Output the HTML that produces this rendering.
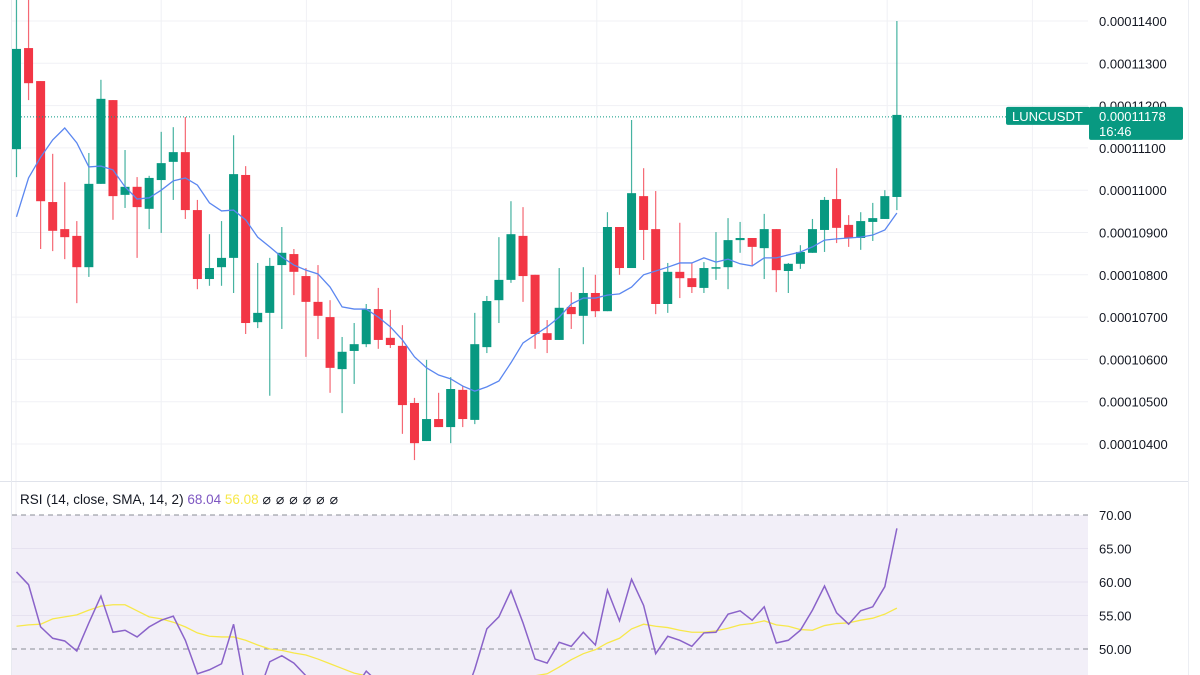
<!DOCTYPE html>
<html><head><meta charset="utf-8">
<style>
html,body{margin:0;padding:0;background:#fff;width:1200px;height:675px;overflow:hidden}
svg{display:block;font-family:"Liberation Sans",sans-serif;overflow:hidden}
</style></head>
<body>
<svg id="chart" width="1200" height="675" viewBox="0 0 1200 675" xmlns="http://www.w3.org/2000/svg">
  <defs><clipPath id="clip"><rect x="0" y="0" width="1200" height="675"/></clipPath></defs>
  <g clip-path="url(#clip)">
  <rect x="0" y="0" width="1200" height="675" fill="#fff"/>
  <g id="grid"></g>
  <rect x="12" y="515" width="1076" height="160" fill="#f2eff8"/>
  <g id="rsigrid"></g>
  <line x1="0" y1="481.5" x2="1188" y2="481.5" stroke="#e0e3eb" stroke-width="1"/>
  <line x1="11.5" y1="0" x2="11.5" y2="675" stroke="#e8eaf0" stroke-width="1"/>
  <line x1="1188.5" y1="0" x2="1188.5" y2="675" stroke="#eceef3" stroke-width="1"/>
  <g id="candles"></g>
  <g id="ma"></g>
  <g id="rsi"></g>
  <g id="axis"></g>
  <g id="raxis"></g>
  <text x="20" y="504" font-size="13.5" fill="#131722">RSI (14, close, SMA, 14, 2) <tspan fill="#7e57c2">68.04</tspan> <tspan fill="#f7e84a">56.08</tspan> <tspan fill="#131722" font-size="14" letter-spacing="5">⌀⌀⌀⌀⌀⌀</tspan></text>
  <g id="lastprice"></g>
  </g>
</svg>
<script>
const opens=[11097,11336,11258,10972,10908,10892,10818,11015,11213,10989,11008,10956,11024,11067,11090,10953,10790,10818,10840,11036,10688,10710,10823,10849,10797,10736,10700,10577,10620,10636,10719,10651,10632,10497,10407,10459,10440,10528,10457,10629,10740,10788,10892,10800,10662,10646,10724,10703,10757,10714,10913,10816,10986,10908,10731,10807,10792,10769,10816,10818,10882,10887,10863,10908,10809,10826,10852,10906,10979,10918,10887,10925,10932,10984];
const highs=[11450,11450,11258,11086,11019,10927,11088,11261,11213,11095,11031,11034,11138,11149,11173,10977,10896,10927,11130,11057,10828,10840,10913,10861,10816,10823,10740,10653,10686,10731,10769,10717,10681,10509,10599,10521,10558,10537,10710,10750,10889,10974,10960,10800,10693,10816,10759,10818,10800,10948,10913,11166,11052,10998,10828,10923,10828,10830,10901,10934,10925,10887,10944,10908,10828,10870,10932,10984,11052,10941,10948,10970,11000,11400];
const lows=[11031,11213,10861,10856,10837,10733,10795,11015,10930,10958,10840,10908,10899,10977,10932,10766,10774,10774,10757,10660,10674,10514,10672,10752,10606,10648,10521,10473,10542,10629,10625,10627,10424,10362,10407,10440,10402,10440,10447,10615,10686,10781,10736,10625,10615,10646,10672,10636,10700,10714,10800,10816,10835,10707,10710,10745,10757,10757,10788,10766,10852,10823,10790,10759,10757,10814,10852,10854,10875,10866,10859,10880,10932,10953];
const closes=[11334,11253,10974,10904,10889,10818,11015,11216,10986,11008,10960,11029,11064,11090,10953,10790,10816,10840,11038,10686,10710,10821,10852,10807,10736,10703,10580,10618,10636,10719,10646,10634,10492,10402,10459,10440,10530,10459,10636,10738,10788,10896,10797,10660,10646,10722,10707,10757,10714,10913,10816,10993,10906,10731,10807,10792,10771,10816,10818,10882,10887,10866,10908,10811,10826,10854,10908,10977,10911,10887,10927,10934,10986,11178];
const maValues=[10937,11029,11078,11119,11147,11112,11055,11057,11048,11008,10979,10982,11000,11022,11029,11012,10970,10951,10953,10930,10889,10866,10842,10823,10811,10802,10771,10724,10719,10719,10700,10677,10646,10606,10580,10563,10554,10537,10525,10535,10549,10592,10639,10658,10677,10700,10731,10745,10745,10752,10755,10771,10800,10809,10818,10828,10828,10840,10830,10837,10826,10821,10840,10840,10847,10854,10866,10882,10885,10887,10889,10894,10906,10946];
const rsiValues=[61.5,59.6,53.3,51.6,51.2,49.7,53.9,57.9,52.5,52.8,51.8,53.3,54.3,54.9,51.3,46.3,46.9,47.8,53.7,44,43,48.1,49,47.9,46,44,43,42,44,46.7,45,43,40,38,41,40,43,42,47,53.0,54.8,58.7,53.9,48.5,47.9,51.0,50.4,52.5,50.6,58.8,54.2,60.4,56.5,49.3,51.9,51.3,50.4,52.4,52.5,55.2,55.7,54.3,56.3,50.9,51.3,52.8,55.8,59.4,55.4,53.7,55.7,56.3,59.3,68.0];
const rsiSmaValues=[53.4,53.6,53.7,54.5,54.8,55.1,55.8,56.4,56.6,56.6,55.7,54.8,54.5,54.0,53.3,52.4,51.9,51.8,51.8,51.3,50.6,50.0,49.8,49.4,49.1,48.5,47.8,47.1,46.4,46,45.5,45,44.6,44.3,44,44,44,44,44.2,44.6,45,45.4,45.8,46.0,46.3,47.3,48.4,49.3,49.9,50.9,51.6,53.0,53.7,53.4,53.2,52.8,52.5,52.5,52.7,53.1,53.6,53.8,54.2,53.6,53.4,52.9,52.8,53.5,53.8,53.9,54.3,54.6,55.2,56.1];
const priceTicks=[11400,11300,11200,11100,11000,10900,10800,10700,10600,10500,10400];
const rsiTicks=[70,65,60,55,50];
const lastPrice=11178;

const NS='http://www.w3.org/2000/svg';
function xC(i){return 16.5+i*12.06;}
function yP(v){return 21+(11400-v)*0.423;}
function yR(v){return 515+(70-v)*6.7;}
function mk(tag,attrs,parent){const e=document.createElementNS(NS,tag);for(const k in attrs)e.setAttribute(k,attrs[k]);parent.appendChild(e);return e;}
function fmt(v){return (v/1e8).toFixed(8);}

const grid=document.getElementById('grid');
for(let gx=16;gx<1088;gx+=145.2){const l=mk('line',{x1:gx,y1:0,x2:gx,y2:675,stroke:'#f0f1f5','stroke-width':1},grid);

}
const axis=document.getElementById('axis');
priceTicks.forEach(v=>{const y=yP(v);
const l=mk('line',{x1:12,y1:y,x2:1088,y2:y,stroke:'#f0f1f5','stroke-width':1},grid);


const t=mk('text',{x:1099,y:y+5,'font-size':13,fill:'#131722'},axis);


t.textContent=fmt(v);});

const rg=document.getElementById('rsigrid');const ra=document.getElementById('raxis');
rsiTicks.forEach(v=>{const y=yR(v);
const dashed=(v===70||v===50);
const l=mk('line',{x1:12,y1:y,x2:1088,y2:y,stroke:dashed?'#8a8d96':'#e6e2f0','stroke-width':1,'stroke-dasharray':dashed?'5,4':'none'},rg);


const t=mk('text',{x:1099,y:y+5,'font-size':13,fill:'#131722'},ra);


t.textContent=v.toFixed(2);});

const cg=document.getElementById('candles');
for(let i=0;i<opens.length;i++){
  const up=closes[i]>=opens[i];const col=up?'#089981':'#f23645';
  const x=xC(i);
  const w=mk('line',{x1:x,y1:yP(highs[i]),x2:x,y2:yP(lows[i]),stroke:col,'stroke-width':1.2,'stroke-opacity':0.75},cg);
  
  
  const top=yP(Math.max(opens[i],closes[i])),bot=yP(Math.min(opens[i],closes[i]));
  const b=mk('rect',{x:x-4.5,y:top,width:9,height:Math.max(1.5,bot-top),fill:col},cg);
  
  
}
const ma=document.getElementById('ma');
const maLine=mk('polyline',{points:maValues.map((v,i)=>xC(i)+','+yP(v)).join(' '),fill:'none',stroke:'#5b87f0','stroke-width':1.3},ma);



const rs=document.getElementById('rsi');
const sm=mk('polyline',{points:rsiSmaValues.map((v,i)=>xC(i)+','+yR(v)).join(' '),fill:'none',stroke:'#f7e84a','stroke-width':1.3},rs);


const rl=mk('polyline',{points:rsiValues.map((v,i)=>xC(i)+','+yR(v)).join(' '),fill:'none',stroke:'#8a63c9','stroke-width':1.5},rs);



const lp=document.getElementById('lastprice');const ly=yP(lastPrice)+2;
const dl=mk('line',{x1:12,y1:ly,x2:1088,y2:ly,stroke:'#089981','stroke-width':1,'stroke-dasharray':'1,2'},lp);


const b1=mk('rect',{x:1006,y:ly-10,width:84,height:18,rx:2,fill:'#089981'},lp);


const t1=mk('text',{x:1012,y:ly+4,'font-size':13,fill:'#fff'},lp);


t1.textContent='LUNCUSDT';
const b2=mk('rect',{x:1089,y:ly-10,width:94,height:33,rx:2,fill:'#089981'},lp);


const t2=mk('text',{x:1099,y:ly+4,'font-size':13,fill:'#fff'},lp);


t2.textContent=fmt(lastPrice);
const t3=mk('text',{x:1099,y:ly+19,'font-size':13,fill:'#fff'},lp);


t3.textContent='16:46';
</script>
</body></html>
